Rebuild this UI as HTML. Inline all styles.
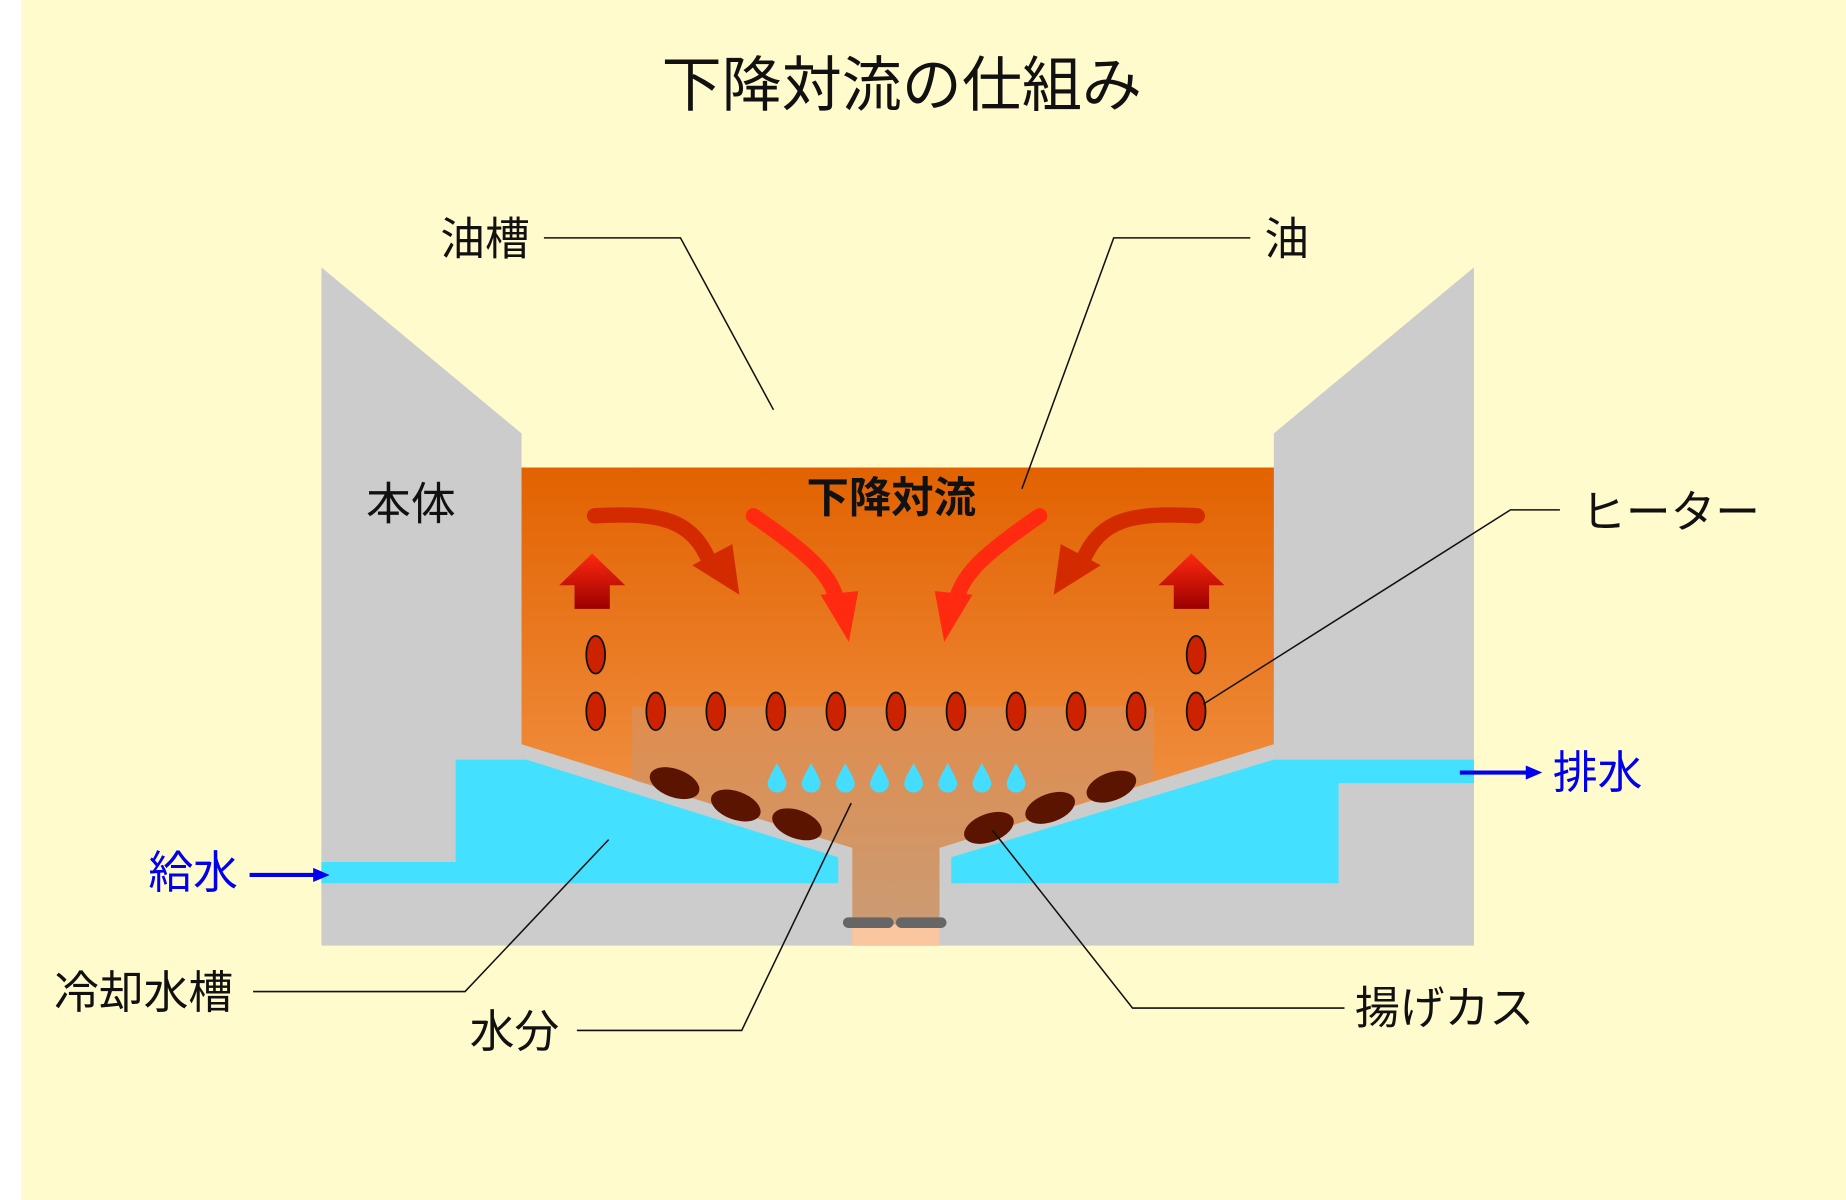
<!DOCTYPE html>
<html><head><meta charset="utf-8"><style>
html,body{margin:0;padding:0;background:#fff;}
svg{display:block;}
text{font-family:"Liberation Sans","Noto Sans CJK JP",sans-serif;}
</style></head><body>
<svg width="1846" height="1200" viewBox="0 0 1568 1019" preserveAspectRatio="none" xmlns="http://www.w3.org/2000/svg">
<defs>
<linearGradient id="oil" x1="0" y1="0" x2="0" y2="1">
<stop offset="0" stop-color="#e26200"/><stop offset="1" stop-color="#f6a25c"/></linearGradient>
<linearGradient id="drain" x1="0" y1="0" x2="0" y2="1">
<stop offset="0" stop-color="#dc9058"/><stop offset="1" stop-color="#b89a80"/></linearGradient>
<linearGradient id="up" x1="0" y1="0" x2="0" y2="1">
<stop offset="0" stop-color="#ff2a10"/><stop offset="1" stop-color="#9a0000"/></linearGradient>
</defs>
<rect x="0" y="0" width="1568" height="1019" fill="#fff"/>
<rect x="18" y="0" width="1550" height="1019" fill="#fffbcc"/>
<text x="766" y="90" font-size="51" text-anchor="middle" fill="#111">下降対流の仕組み</text>
<polygon points="273,227 443,368 443,397 1082,397 1082,368 1252,227 1252,803 273,803" fill="#cccccc"/>
<polygon points="387,645 447,645 712,728 712,750 273,750 273,732 387,732" fill="#44e0ff"/>
<polygon points="1082,645 1252,645 1252,665 1137,665 1137,750 808,750 808,728" fill="#44e0ff"/>
<polygon points="443,397 1082,397 1082,632 798,720 798,803 724,803 724,720 443,632" fill="url(#oil)"/>
<polygon points="537,600 980,600 980,662 798,720 798,785 724,785 724,720 537,662" fill="url(#drain)" opacity="0.7"/>
<rect x="724" y="785" width="74" height="18" fill="#f9c6a0"/>
<rect x="716" y="779" width="43" height="9" rx="4.5" fill="#666"/>
<rect x="761" y="779" width="43" height="9" rx="4.5" fill="#666"/>
<g fill="#5a1400">
<ellipse cx="573" cy="665" rx="22" ry="12" transform="rotate(20 573 665)"/>
<ellipse cx="625" cy="684" rx="22" ry="12" transform="rotate(20 625 684)"/>
<ellipse cx="677" cy="700" rx="22" ry="12" transform="rotate(20 677 700)"/>
<ellipse cx="840" cy="703" rx="22" ry="12" transform="rotate(-20 840 703)"/>
<ellipse cx="892" cy="686" rx="22" ry="12" transform="rotate(-20 892 686)"/>
<ellipse cx="944" cy="668" rx="22" ry="12" transform="rotate(-20 944 668)"/>
</g>
<g fill="#44ddff">
<path d="M660,648 Q652,662 652,665 A8,8 0 0 0 668,665 Q668,662 660,648Z"/>
<path d="M689,648 Q681,662 681,665 A8,8 0 0 0 697,665 Q697,662 689,648Z"/>
<path d="M718,648 Q710,662 710,665 A8,8 0 0 0 726,665 Q726,662 718,648Z"/>
<path d="M747,648 Q739,662 739,665 A8,8 0 0 0 755,665 Q755,662 747,648Z"/>
<path d="M776,648 Q768,662 768,665 A8,8 0 0 0 784,665 Q784,662 776,648Z"/>
<path d="M805,648 Q797,662 797,665 A8,8 0 0 0 813,665 Q813,662 805,648Z"/>
<path d="M834,648 Q826,662 826,665 A8,8 0 0 0 842,665 Q842,662 834,648Z"/>
<path d="M863,648 Q855,662 855,665 A8,8 0 0 0 871,665 Q871,662 863,648Z"/>
</g>
<g fill="#cc2200" stroke="#111" stroke-width="1.5">
<ellipse cx="506" cy="556" rx="8" ry="16"/><ellipse cx="1016" cy="556" rx="8" ry="16"/>
<ellipse cx="506" cy="604" rx="8" ry="16"/><ellipse cx="557" cy="604" rx="8" ry="16"/>
<ellipse cx="608" cy="604" rx="8" ry="16"/><ellipse cx="659" cy="604" rx="8" ry="16"/>
<ellipse cx="710" cy="604" rx="8" ry="16"/><ellipse cx="761" cy="604" rx="8" ry="16"/>
<ellipse cx="812" cy="604" rx="8" ry="16"/><ellipse cx="863" cy="604" rx="8" ry="16"/>
<ellipse cx="914" cy="604" rx="8" ry="16"/><ellipse cx="965" cy="604" rx="8" ry="16"/>
<ellipse cx="1016" cy="604" rx="8" ry="16"/>
</g>
<polygon points="503,470 531,497 518,497 518,517 488,517 488,497 475,497" fill="url(#up)"/>
<polygon points="1012,470 1040,497 1027,497 1027,517 997,517 997,497 984,497" fill="url(#up)"/>
<g fill="none" stroke-linecap="round" stroke-width="13">
<path d="M505,438 C560,435 588,440 603,478" stroke="#d42a00"/>
<path d="M1017,438 C962,435 934,440 919,478" stroke="#d42a00"/>
<path d="M640,438 C690,472 708,490 712,515" stroke="#ff2a10"/>
<path d="M883,438 C833,472 815,490 811,515" stroke="#ff2a10"/>
</g>
<polygon points="628,505 588,480 622,462" fill="#d42a00"/>
<polygon points="895,505 935,480 901,462" fill="#d42a00"/>
<polygon points="721,545 697,505 729,502" fill="#ff2a10"/>
<polygon points="802,545 826,505 794,502" fill="#ff2a10"/>
<text x="757" y="435" font-size="36" font-weight="bold" text-anchor="middle" fill="#111">下降対流</text>
<g fill="none" stroke="#111" stroke-width="1.3">
<polyline points="462,202 578,202 657,348"/>
<polyline points="1062,202 946,202 868,415"/>
<polyline points="1325,433 1283,433 1022,598"/>
<polyline points="215,842 395,842 517,713"/>
<polyline points="490,875 630,875 723,682"/>
<polyline points="1142,856 962,856 843,705"/>
</g>
<g stroke="#0000ee" stroke-width="3.5">
<line x1="1240" y1="656" x2="1298" y2="656"/>
<line x1="212" y1="743" x2="268" y2="743"/>
</g>
<polygon points="1310,656 1296,650 1296,662" fill="#0000ee"/>
<polygon points="280,743 266,737 266,749" fill="#0000ee"/>
<g font-size="38" fill="#111">
<text x="374" y="216">油槽</text>
<text x="1074" y="216">油</text>
<text x="311" y="441">本体</text>
<text x="1343" y="448">ヒーター</text>
<text x="46" y="856">冷却水槽</text>
<text x="399" y="889">水分</text>
<text x="1151" y="869">揚げカス</text>
</g>
<g font-size="38" fill="#0000ee">
<text x="1319" y="669">排水</text>
<text x="126" y="754">給水</text>
</g>
</svg>
</body></html>
